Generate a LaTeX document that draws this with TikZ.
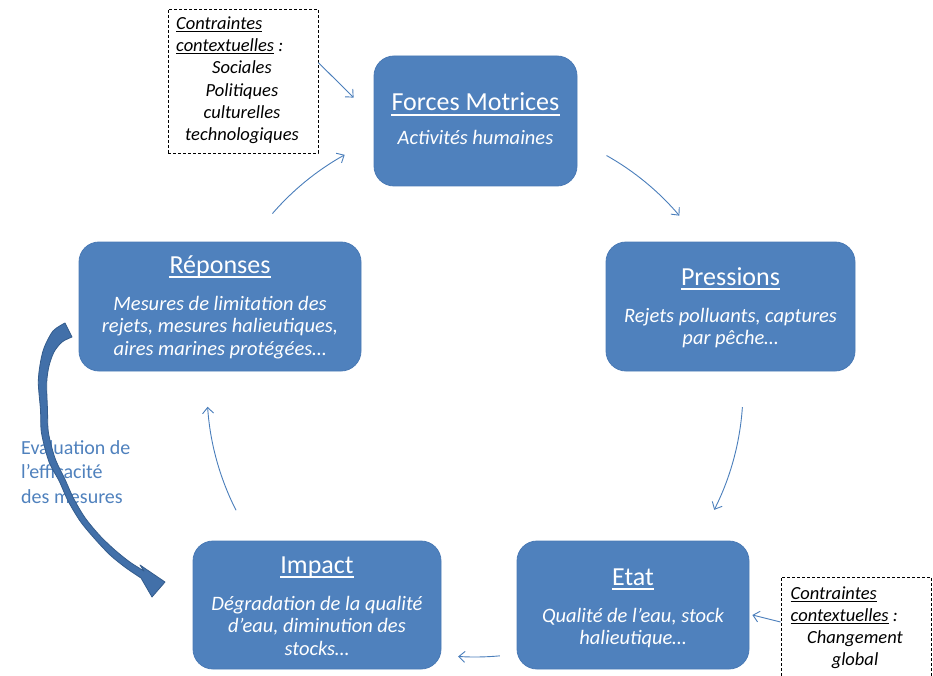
\documentclass[tikz,border=0pt]{standalone}
\usepackage{fontspec}
\setmainfont{Carlito}
\usetikzlibrary{arrows.meta,calc}
\definecolor{boxblue}{HTML}{4F81BD}
\definecolor{boxedge}{HTML}{4A7AB5}
\definecolor{linkblue}{HTML}{4A7EBB}
\definecolor{bigarrow}{HTML}{4270A9}
\definecolor{bigarrowedge}{HTML}{345C8C}
\begin{document}
\begin{tikzpicture}[x=1pt,y=1pt,
  stagebox/.style={draw=boxedge, line width=0.8pt, fill=boxblue, rounded corners=20pt, inner sep=0pt},
  stagetitle/.style={anchor=base, inner sep=0pt, text=white, font=\fontsize{26}{30}\selectfont},
  stagetext/.style={anchor=base, inner sep=0pt, text=white, font=\fontsize{20.5}{22.5}\selectfont\itshape},
  titleline/.style={white, line width=1.8pt},
  notebox/.style={draw=black, dash pattern=on 3pt off 2pt, line width=0.8pt, inner sep=0pt},
  notetext/.style={inner sep=0pt, font=\fontsize{18.5}{22.2}\selectfont\itshape},
  link/.style={draw=linkblue, line width=0.9pt, -{Straight Barb[length=6pt,width=11pt]}},
]
\useasboundingbox (0,0) rectangle (933,-676);
\begin{scope}
\clip (0,0) rectangle (933,-676);

% stage boxes of the cycle
\node[stagebox, minimum width=203pt, minimum height=130pt] (forces)    at (475.5,-121) {};
\node[stagebox, minimum width=249pt, minimum height=129pt] (pressions) at (730.5,-306.5) {};
\node[stagebox, minimum width=232pt, minimum height=128pt] (etat)      at (633,-605) {};
\node[stagebox, minimum width=248pt, minimum height=128pt] (impact)    at (317,-605) {};
\node[stagebox, minimum width=282pt, minimum height=129pt] (reponses)  at (220,-306.5) {};

% titles
\node[stagetitle] (forcesT)    at (475.5,-111) {Forces Motrices};
\node[stagetitle] (pressionsT) at (730.5,-285) {Pressions};
\node[stagetitle] (etatT)      at (633,-585)   {Etat};
\node[stagetitle] (impactT)    at (317,-573)   {Impact};
\node[stagetitle] (reponsesT)  at (220,-273)   {Réponses};
\foreach \t in {forcesT,pressionsT,etatT,impactT,reponsesT}
  \draw[titleline] ([yshift=-4pt]\t.base west) -- ([yshift=-4pt]\t.base east);

% descriptions
\node[stagetext] (forcesS) at (475.5,-145) {Activités humaines};
\node[stagetext] (pressionsS) at (730.5,-322)
  {\begin{tabular}[t]{@{}c@{}}Rejets polluants, captures\\par pêche…\end{tabular}};
\node[stagetext] (etatS) at (633,-622)
  {\begin{tabular}[t]{@{}c@{}}Qualité de l’eau, stock\\halieutique…\end{tabular}};
\node[stagetext] (impactS) at (317,-610)
  {\begin{tabular}[t]{@{}c@{}}Dégradation de la qualité\\d’eau, diminution des\\stocks…\end{tabular}};
\node[stagetext] (reponsesS) at (220,-310)
  {\begin{tabular}[t]{@{}c@{}}Mesures de limitation des\\rejets, mesures halieutiques,\\aires marines protégées…\end{tabular}};

% context notes
\node[notebox, minimum width=150pt, minimum height=144pt] (noteA) at (243,-81) {};
\node[notetext, anchor=base west] (noteAh) at (176,-29.5)
  {\begin{tabular}[t]{@{}l@{}}\underline{Contraintes}\\\underline{contextuelles} :\end{tabular}};
\node[notetext, anchor=base] (noteAb) at (242,-74)
  {\begin{tabular}[t]{@{}c@{}}Sociales\\Politiques\\culturelles\\technologiques\end{tabular}};

\node[notebox, minimum width=150pt, minimum height=124pt] (noteB) at (856,-639) {};
\node[notetext, anchor=base west] (noteBh) at (790.5,-599.5)
  {\begin{tabular}[t]{@{}l@{}}\underline{Contraintes}\\\underline{contextuelles} :\end{tabular}};
\node[notetext, anchor=base] (noteBb) at (855,-643.5)
  {\begin{tabular}[t]{@{}c@{}}Changement\\global\end{tabular}};

% cycle arrows: arcs of one circle through the five boxes
\coordinate (hub) at (475,-389);
\draw[link] ($(hub)+(60.6:268)$) arc[start angle=60.6, end angle=40.3, radius=268];
\draw[link] ($(hub)+(-3.9:268)$) arc[start angle=-3.9, end angle=-26.8, radius=268];
\draw[link] ($(hub)+(-84.7:268)$) arc[start angle=-84.7, end angle=-93.6, radius=268];
\draw[link] ($(hub)+(206.9:268)$) arc[start angle=206.9, end angle=183.8, radius=268];
\draw[link] ($(hub)+(139.1:268)$) arc[start angle=139.1, end angle=119.1, radius=268];

% notes pointing at their boxes
\draw[link] ($(noteA.north east)+(0,-54)$) -- ($(forces.north west)+(-20,-42)$);
\draw[link] ($(noteB.west)+(0,17)$) -- ($(etat.east)+(3,-10)$);

% evaluation loop
\node[anchor=base west, inner sep=0pt, text=boxblue, font=\fontsize{20}{24.5}\selectfont] (evalT) at (21,-454)
  {\begin{tabular}[t]{@{}l@{}}Evaluation de\\l’efficacité\\des mesures\end{tabular}};

\filldraw[fill=bigarrow, draw=bigarrowedge, line width=0.8pt, line join=round]
  (65,-323) -- plot[smooth] coordinates {(72,-337) (62,-342) (54,-352) (49,-366) (46.7,-383) (47.5,-410) (48.5,-433) (55.1,-458.4) (64.7,-478.7) (73.7,-498.6) (85.3,-518.1) (100.2,-536) (115.3,-550.4) (130.1,-562.2) (144,-571)}
  -- (140,-565) -- (165,-582) -- (152,-597) --
  plot[smooth] coordinates {(141,-578) (125.9,-567.8) (110.7,-555.6) (95.8,-540) (80.7,-521.9) (68.3,-501.4) (59.3,-481.3) (48.9,-461.6) (41.5,-433) (40.5,-410) (38.3,-383) (40,-365) (44,-348) (53,-331) (65,-323)}
  -- cycle;
\end{scope}
\end{tikzpicture}
\end{document}
